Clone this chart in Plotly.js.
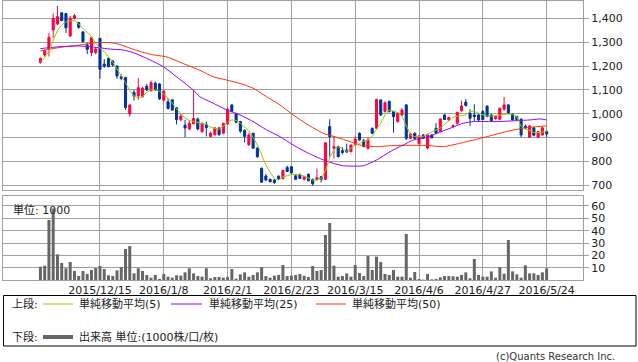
<!DOCTYPE html>
<html>
<head>
<meta charset="utf-8">
<script src="https://cdn.plot.ly/plotly-3.0.1.min.js"></script>
<style>
html,body{margin:0;padding:0;background:#fff;}
#chart{width:638px;height:362px;}
</style>
</head>
<body>
<div id="chart"></div>
<script>
// ---- data (trading-day index 0 = 2015/11/25 ... 119 = 2016/5/24) ----
const openP = [1214,1246,1270,1351,1376,1423,1420,1326,1400,1382,1343,1288,1256,1256,1316,1208,1232,1221,1200,1155,
1152,999,1090,1074,1072,1115,1097,1128,1125,1057,1050,1058,1025,975,952,937,958,977,925,955,
905,912,940,918,957,1037,1000,967,930,870,918,856,771,739,725,722,738,728,775,778,
740,743,725,746,725,725,736,725,946,855,862,845,848,841,872,918,887,855,939,939,
1058,1010,1052,1010,967,995,1037,897,918,875,911,856,911,939,925,995,974,946,960,1013,
1049,1002,995,995,1009,1032,995,979,977,1019,1037,999,988,977,948,901,941,901,911,925];
const highP = [1236,1268,1338,1421,1452,1425,1423,1410,1418,1385,1346,1298,1322,1280,1318,1229,1235,1225,1203,1165,
1155,1040,1100,1150,1112,1125,1140,1135,1128,1098,1066,1062,1028,1000,975,972,1100,985,962,966,
925,945,945,962,1022,1040,1004,970,935,920,920,860,775,748,728,725,742,766,782,780,
745,750,740,750,728,770,740,880,977,905,866,860,875,870,905,922,895,900,942,1062,
1060,1052,1055,1012,1006,1023,1040,920,922,910,915,913,915,960,980,998,987,955,1008,1055,
1062,1019,1040,1000,1015,1035,998,992,1025,1070,1040,1002,992,980,955,952,945,928,945,930];
const lowP = [1210,1240,1240,1318,1372,1388,1338,1322,1395,1356,1300,1250,1242,1250,1147,1192,1195,1198,1146,1140,
1016,988,1055,1058,1068,1095,1092,1095,1058,1052,1018,1012,955,968,901,930,955,930,920,905,
900,908,908,914,954,1006,960,920,880,865,852,815,710,718,712,706,722,725,755,748,
722,726,720,717,698,720,712,722,820,813,817,830,835,838,865,886,860,850,915,935,
990,1005,1005,921,962,990,890,893,890,870,896,850,897,916,922,974,970,942,955,1008,
1030,949,968,970,974,985,968,975,975,1012,1000,972,970,901,938,898,905,898,908,902];
const closeP = [1232,1264,1320,1400,1407,1390,1360,1400,1411,1362,1302,1270,1319,1271,1186,1200,1197,1204,1158,1148,
1026,1037,1074,1109,1107,1100,1130,1100,1062,1095,1022,1016,975,990,940,960,980,936,960,942,
918,940,912,960,1019,1010,964,927,905,911,856,820,713,722,715,711,728,762,758,752,
725,729,736,719,706,732,725,878,904,862,820,838,840,869,894,890,862,890,918,1060,
995,1046,1009,988,1002,1016,897,915,897,907,898,911,899,918,978,976,984,950,1006,1032,
1035,981,988,974,976,988,971,988,1023,1037,1002,974,975,911,940,949,910,925,941,915];
// volume, unit 1000
const volume = [10.8,11.6,48.7,58,20.8,13.8,9.5,14.6,7.3,3.2, 7.3,4.9,8.1,9.7,11.4,8.9,3.8,3.2,7.8,10.5,
25.1,27.6,5.4,9.5,7.3,4.1,1.9,4.1,0.8,4.9, 2.7,1.9,3.8,3.5,6.2,9.5,5.4,3.2,2.7,9.5,
1.4,2.4,2.4,1.9,2.4,8.9,1.1,4.6,6.2,2.7, 4.1,6.2,10.5,3.2,1.9,3.5,4.1,12.2,3.2,3.5,
4.1,4.9,3.5,2.4,11.4,7.3,8.1,36.5,46.2,11.6, 2.7,3.2,5.4,2.7,12.2,5.7,3.2,19.5,8.1,18.9,
14.6,4.9,4.1,8.1,2.7,2.7,37.3,1.9,6.5,0.8, 0.3,4.9,0.5,0.8,2.2,3.2,3.2,3.0,2.7,4.1,
6.2,1.4,17.0,4.1,2.7,2.7,7.0,1.9,10.3,5.1, 32.4,7.0,4.6,1.9,11.9,5.4,5.4,4.1,6.2,9.5];
// moving averages
const ma5 = [1216,1235,1262,1310,1350,1372,1385,1390,1390,1375,1358,1340,1323,1295,1275,1260,1240,1215,1190,1160,
1130,1098,1075,1065,1072,1090,1100,1100,1094,1082,1065,1045,1020,1000,982,972,967,962,958,955,
943,938,935,948,965,974,972,960,946,928,900,870,828,785,755,728,722,735,740,745,
746,745,738,730,722,722,728,760,815,850,862,855,842,855,868,875,885,890,905,935,
960,995,1016,1010,1005,990,953,910,904,905,905,915,925,932,940,955,967,985,990,993,
995,1010,1010,1002,995,990,990,992,995,998,999,998,988,946,935,930,921,921,923,925];
const ma25Days = [0,4.6,9.3,13.6,16.4,19.5,21.8,25,28.9,32,35.9,37.5,40.6,43.8,46.9,50,53.2,56.3,59.4,62.6,66,68.9,71.2,75.9,79,82.2,85.3,87.7,90.8,93.2,96.3,99.4,101.8,107.3,112,115.1,117.4,119];
const ma25 = [1273,1281,1284,1277,1271,1267,1256,1232,1197,1155,1100,1071,1044,1016,995,967,932,904,869,838,810,792,782,782,806,841,869,890,901,918,939,960,967,967,971,974,978,974];
const ma50Days = [0,4.6,9.3,13.2,16.4,18.7,21.8,25.8,29.7,33.6,37.5,40.6,43.8,46.9,50,53.2,56.3,59.4,62.6,66.5,69.7,72.8,75.1,79.1,83,90.8,94.7,98.6,102.6,106.5,110.4,113.5,116.7,119];
const ma50 = [1263,1278,1288,1298,1298,1290,1270,1249,1238,1210,1182,1155,1141,1127,1107,1071,1037,995,957,918,901,883,869,862,867,867,862,876,893,911,929,939,946,949];
const tickDays = [14,29,44,59,74,89,104,119];
const tickLabels = ['2015/12/15','2016/1/8','2016/2/1','2016/2/23','2016/3/15','2016/4/6','2016/4/27','2016/5/24'];
const priceTicks = [700,800,900,1000,1100,1200,1300,1400];
const volTicks = [10,20,30,40,50,60];

// ---- drawing ----
const days = closeP.map((_, i) => i);
const UP = '#ff0040', DOWN = '#003399';
const FONT = 'DejaVu Sans, "Noto Sans CJK JP", sans-serif';
const GRID = '#a0a0a0';

const traces = [
  {type:'candlestick', x:days, open:openP, high:highP, low:lowP, close:closeP,
   xaxis:'x', yaxis:'y', whiskerwidth:0, hoverinfo:'skip', showlegend:false,
   increasing:{line:{color:UP,width:1}, fillcolor:UP},
   decreasing:{line:{color:DOWN,width:1}, fillcolor:DOWN}},
  {type:'scatter', mode:'lines', x:ma50Days, y:ma50, xaxis:'x', yaxis:'y',
   line:{color:'#ff3300', width:1, shape:'spline', smoothing:0.6}, hoverinfo:'skip', showlegend:false},
  {type:'scatter', mode:'lines', x:ma25Days, y:ma25, xaxis:'x', yaxis:'y',
   line:{color:'#9900ff', width:1, shape:'spline', smoothing:0.6}, hoverinfo:'skip', showlegend:false},
  {type:'scatter', mode:'lines', x:days, y:ma5, xaxis:'x', yaxis:'y',
   line:{color:'#99cc00', width:1}, hoverinfo:'skip', showlegend:false},
  {type:'bar', x:days, y:volume, xaxis:'x2', yaxis:'y2', width:0.7,
   marker:{color:'#666666', line:{width:0}}, hoverinfo:'skip', showlegend:false}
];

// pixel -> paper helpers for the decorative legend box
const L = 3, R = 583, T = 1, B = 280;
const PX = px => (px - L) / (R - L);
const PY = py => (B - py) / (B - T);

const xr = [-8.8, 127.55];
const layout = {
  width:638, height:362,
  margin:{l:L, r:638-R, t:T, b:362-B, pad:0},
  paper_bgcolor:'#ffffff', plot_bgcolor:'#ffffff',
  font:{family:FONT, size:11, color:'#222'},
  showlegend:false,
  xaxis:{domain:[0,1], range:xr, anchor:'y', tickmode:'array', tickvals:tickDays, ticktext:tickLabels,
    showticklabels:false, ticks:'', showgrid:true, gridcolor:GRID, gridwidth:1, zeroline:false,
    showline:true, linecolor:GRID, linewidth:1, mirror:true, rangeslider:{visible:false}, fixedrange:true},
  yaxis:{domain:[PY(190),1], range:[680.3,1472.5], side:'right', tickmode:'array', tickvals:priceTicks,
    tickformat:',d', ticks:'outside', ticklen:5, tickcolor:GRID, showgrid:true, gridcolor:GRID, gridwidth:1,
    zeroline:false, showline:true, linecolor:GRID, linewidth:1, mirror:true, tickfont:{size:11, color:'#222'}},
  xaxis2:{domain:[0,1], range:xr, anchor:'y2', tickmode:'array', tickvals:tickDays, ticktext:tickLabels,
    ticks:'', showgrid:true, gridcolor:GRID, gridwidth:1, zeroline:false, tickfont:{size:11, color:'#222'},
    showline:true, linecolor:GRID, linewidth:1, mirror:true, fixedrange:true},
  yaxis2:{domain:[0,PY(196)], range:[0,68.1], side:'right', tickmode:'array', tickvals:volTicks,
    ticks:'outside', ticklen:5, tickcolor:GRID, showgrid:true, gridcolor:GRID, gridwidth:1, zeroline:false,
    showline:true, linecolor:GRID, linewidth:1, mirror:true, tickfont:{size:11, color:'#222'}},
  bargap:0.3,
  shapes:[
    {type:'rect', xref:'paper', yref:'paper', x0:PX(3.5), x1:PX(636), y0:PY(295.5), y1:PY(346), line:{color:'#000', width:1}},
    {type:'line', xref:'paper', yref:'paper', x0:PX(43), x1:PX(73), y0:PY(304), y1:PY(304), line:{color:'#99cc00', width:1}},
    {type:'line', xref:'paper', yref:'paper', x0:PX(171), x1:PX(202), y0:PY(304), y1:PY(304), line:{color:'#9900ff', width:1}},
    {type:'line', xref:'paper', yref:'paper', x0:PX(316), x1:PX(346), y0:PY(304), y1:PY(304), line:{color:'#ff3300', width:1}},
    {type:'line', xref:'paper', yref:'paper', x0:PX(43), x1:PX(73), y0:PY(337), y1:PY(337), line:{color:'#666666', width:4}}
  ],
  annotations:[
    {xref:'paper', yref:'paper', x:PX(11), y:PY(209.5), xanchor:'left', yanchor:'middle', showarrow:false, text:'単位: 1000', font:{size:11, color:'#222'}},
    {xref:'paper', yref:'paper', x:PX(10), y:PY(304), xanchor:'left', yanchor:'middle', showarrow:false, text:'上段:', font:{size:11, color:'#222'}},
    {xref:'paper', yref:'paper', x:PX(77), y:PY(304), xanchor:'left', yanchor:'middle', showarrow:false, text:'単純移動平均(5)', font:{size:11, color:'#222'}},
    {xref:'paper', yref:'paper', x:PX(207), y:PY(304), xanchor:'left', yanchor:'middle', showarrow:false, text:'単純移動平均(25)', font:{size:11, color:'#222'}},
    {xref:'paper', yref:'paper', x:PX(350), y:PY(304), xanchor:'left', yanchor:'middle', showarrow:false, text:'単純移動平均(50)', font:{size:11, color:'#222'}},
    {xref:'paper', yref:'paper', x:PX(10), y:PY(337), xanchor:'left', yanchor:'middle', showarrow:false, text:'下段:', font:{size:11, color:'#222'}},
    {xref:'paper', yref:'paper', x:PX(77), y:PY(337), xanchor:'left', yanchor:'middle', showarrow:false, text:'出来高 単位:(1000株/口/枚)', font:{size:11, color:'#222'}},
    {xref:'paper', yref:'paper', x:PX(617), y:PY(356.5), xanchor:'right', yanchor:'middle', showarrow:false, text:'(c)Quants Research Inc.', font:{size:10, color:'#333'}}
  ]
};

Plotly.newPlot('chart', traces, layout, {displayModeBar:false, staticPlot:true});
</script>
</body>
</html>
